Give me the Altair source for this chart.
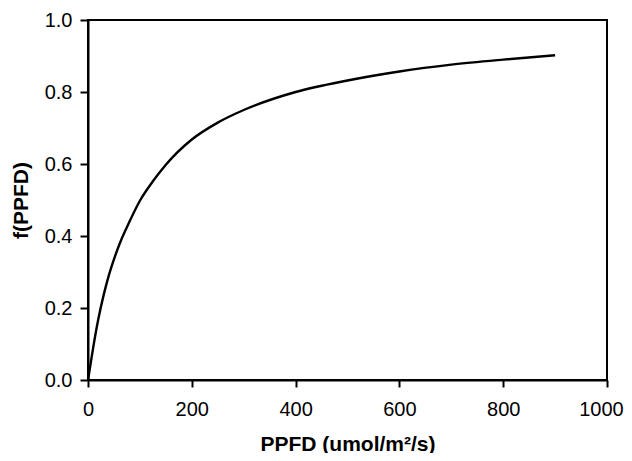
import altair as alt
import pandas as pd

ppfd = [0, 5, 10, 20, 30, 40, 50, 60, 80, 100, 125, 150, 200, 250, 300, 400, 500, 600, 700, 800, 900]
f_ppfd = [0.0, 0.045, 0.09, 0.17, 0.235, 0.29, 0.335, 0.375, 0.44, 0.498, 0.552, 0.598, 0.668, 0.715, 0.75,
          0.8, 0.832, 0.857, 0.876, 0.89, 0.902]
x_ticks = [0, 200, 400, 600, 800, 1000]
y_ticks = [0, 0.2, 0.4, 0.6, 0.8, 1.0]

df = pd.DataFrame({"PPFD": ppfd, "f": f_ppfd})

FONT = "Liberation Sans"

chart = alt.Chart(df).mark_line(color="black", strokeWidth=2.4, interpolate="monotone").encode(
    x=alt.X("PPFD:Q",
            scale=alt.Scale(domain=[0, 1000], nice=False, zero=False),
            axis=alt.Axis(title="PPFD (umol/m²/s)", values=x_ticks,
                          format="d", grid=False, tickSize=7, labelPadding=12,
                          labelOffset={"condition": {"test": "datum.value == 1000", "value": -6}, "value": 0},
                          titlePadding=14)),
    y=alt.Y("f:Q",
            scale=alt.Scale(domain=[0, 1], nice=False),
            axis=alt.Axis(title="f(PPFD)", values=y_ticks,
                          format=".1f", grid=False, tickSize=8, labelPadding=8,
                          titlePadding=13)),
).properties(
    width=519, height=360,
    autosize=alt.AutoSizeParams(type="none"),
    padding={"left": 80, "top": 12, "right": 17, "bottom": 73},
).configure_view(
    stroke="black", strokeWidth=2
).configure_axis(
    domainColor="black", domainWidth=2, tickColor="black", tickWidth=2,
    labelFont=FONT, labelFontSize=20, labelColor="black",
    titleFont=FONT, titleFontSize=21, titleFontWeight="bold", titleColor="black",
    labelFlush=False, labelOverlap=False,
)

chart.save("out.html", embed_options={"renderer": "svg", "actions": False})
